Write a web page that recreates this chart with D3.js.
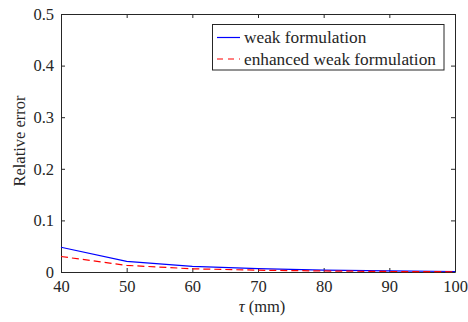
<!DOCTYPE html>
<html>
<head>
<meta charset="utf-8">
<script src="https://cdn.jsdelivr.net/npm/d3@7"></script>
<style>
body { margin: 0; background: #fff; }
text { font-family: "Liberation Serif", "Times New Roman", serif; fill: #262626; }
</style>
</head>
<body>
<svg width="468" height="322"></svg>
<script>
// data
var tau = [40, 50, 60, 70, 80, 90, 100]
var weak = [0.048, 0.0205, 0.011, 0.0065, 0.0035, 0.002, 0.001]
var enhanced = [0.030, 0.0128, 0.0062, 0.0035, 0.002, 0.001, 0.0005]
var xTicks = [40, 50, 60, 70, 80, 90, 100]
var yTicks = [0, 0.1, 0.2, 0.3, 0.4, 0.5]

var svg = d3.select('svg')
var plotLeft = 61, plotRight = 455, plotTop = 14, plotBottom = 272

var xScale = d3.scaleLinear().domain([40, 100]).range([plotLeft, plotRight])
var yScale = d3.scaleLinear().domain([0, 0.5]).range([plotBottom, plotTop])

// axes, MATLAB style with ticks pointing in
svg.append('g').attr('transform', 'translate(0,' + plotBottom + ')')
    .call(d3.axisBottom(xScale).tickValues(xTicks).tickSizeInner(-4).tickSizeOuter(0).tickPadding(8))
svg.append('g').attr('transform', 'translate(0,' + plotTop + ')')
    .call(d3.axisTop(xScale).tickValues(xTicks).tickSizeInner(-4).tickSizeOuter(0).tickFormat(''))
svg.append('g').attr('transform', 'translate(' + plotLeft + ',0)')
    .call(d3.axisLeft(yScale).tickValues(yTicks).tickSizeInner(-4).tickSizeOuter(0).tickPadding(7)
        .tickFormat(function(d) { return d === 0 ? '0' : d3.format('.1f')(d) }))
svg.append('g').attr('transform', 'translate(' + plotRight + ',0)')
    .call(d3.axisRight(yScale).tickValues(yTicks).tickSizeInner(-4).tickSizeOuter(0).tickFormat(''))

svg.selectAll('g').attr('font-family', '"Liberation Serif", serif').attr('font-size', 16.5)
svg.selectAll('.domain, .tick line').attr('stroke', '#262626')
svg.selectAll('.tick text').attr('fill', '#262626')

var line = d3.line()
    .x(function(d, i) { return xScale(tau[i]) })
    .y(function(d) { return yScale(d) })

svg.append('path').datum(weak).attr('d', line)
    .attr('fill', 'none').attr('stroke', '#0000ff').attr('stroke-width', 1.2)
svg.append('path').datum(enhanced).attr('d', line)
    .attr('fill', 'none').attr('stroke', '#ff0000').attr('stroke-width', 1.2)
    .attr('stroke-dasharray', '7,4')

// labels
svg.append('text')
    .attr('transform', 'translate(25,141) rotate(-90)')
    .attr('text-anchor', 'middle')
    .style('font-size', '16.5px')
    .text('Relative error')

var xl = svg.append('text')
    .attr('x', 262).attr('y', 312)
    .attr('text-anchor', 'middle')
    .style('font-size', '16.5px')
xl.append('tspan').style('font-style', 'italic').text('τ')
xl.append('tspan').text(' (mm)')

// legend
var legend = svg.append('g')
legend.append('rect')
    .attr('x', 212.5).attr('y', 24.5).attr('width', 231.5).attr('height', 45.5)
    .attr('fill', '#fff').attr('stroke', '#262626').attr('stroke-width', 1)
var entries = [
    { name: 'weak formulation', color: '#0000ff', dash: null },
    { name: 'enhanced weak formulation', color: '#ff0000', dash: '6,5' }
]
entries.forEach(function(e, i) {
    var y = 37.5 + i * 21.5
    legend.append('line')
        .attr('x1', 217).attr('x2', 240).attr('y1', y).attr('y2', y)
        .attr('stroke', e.color).attr('stroke-width', 1.2).attr('stroke-dasharray', e.dash)
    legend.append('text')
        .attr('x', 244).attr('y', y + 5.5)
        .style('font-size', '17.3px')
        .text(e.name)
})
</script>
</body>
</html>
